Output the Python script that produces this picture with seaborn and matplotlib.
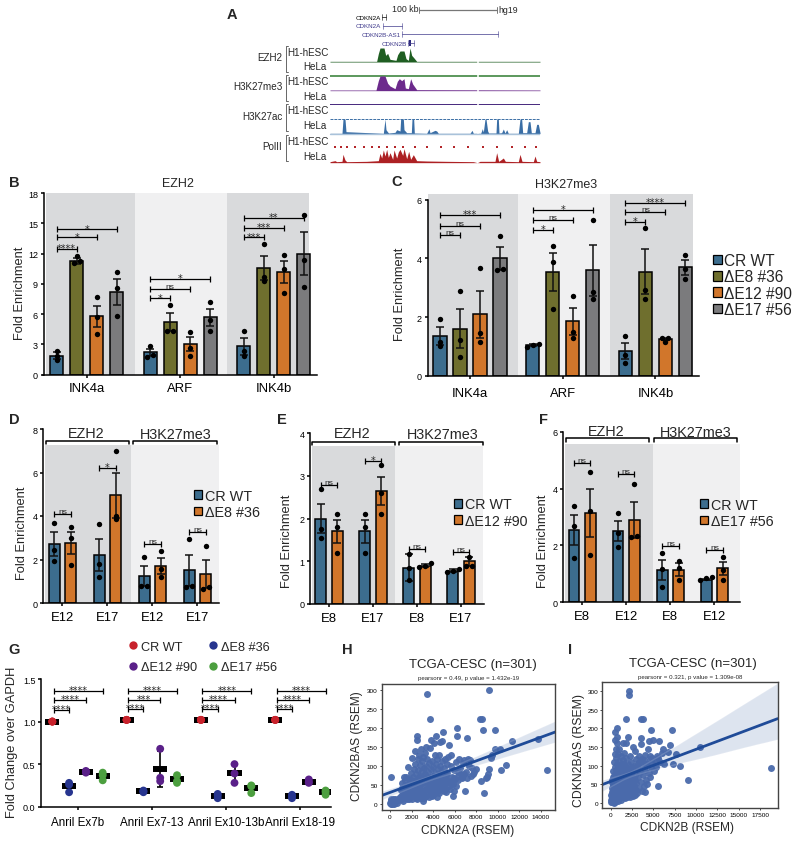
import numpy as np
import pandas as pd
import seaborn as sns
import matplotlib.pyplot as plt
import matplotlib.transforms as mtransforms
from matplotlib.patches import Patch
from matplotlib.lines import Line2D

W, H = 800, 845

GROUPS_BC = ['INK4a', 'ARF', 'INK4b']
CONDS = ['CR WT', 'ΔE8 #36', 'ΔE12 #90', 'ΔE17 #56']
BLUE, OLIVE, ORANGE, GRAY = '#3c6d8e', '#6f6f2e', '#d1762b', '#7b7b7d'
BAND_DARK, BAND_LIGHT = '#d9dadc', '#f0f0f1'

# panel B, rows are genes, columns are conditions
b_means = [[1.9, 11.3, 5.8, 8.2], [2.2, 5.2, 3.0, 5.7], [2.8, 10.6, 10.2, 12.0]]
b_sems = [[0.3, 0.3, 1.05, 1.3], [0.35, 0.9, 0.7, 0.85], [0.8, 1.2, 1.1, 2.1]]
b_dots = [
    [[1.5, 1.9, 2.3], [11.1, 11.3, 11.8], [4.0, 5.7, 7.7], [5.8, 8.6, 10.2]],
    [[1.8, 2.0, 2.8], [4.3, 4.3, 6.9], [1.9, 2.6, 4.2], [4.3, 5.4, 7.2]],
    [[1.9, 2.3, 4.3], [9.3, 9.7, 12.9], [8.1, 10.5, 11.9], [8.7, 11.4, 15.8]],
]
b_brackets = [
    (0, 0, 1, 12.5, '****'), (0, 0, 2, 13.6, '*'), (0, 0, 3, 14.4, '*'),
    (1, 0, 1, 7.55, '*'), (1, 0, 2, 8.5, 'ns'), (1, 0, 3, 9.5, '*'),
    (2, 0, 1, 13.6, '***'), (2, 0, 2, 14.55, '***'), (2, 0, 3, 15.5, '**'),
]

# panel C
c_means = [[1.35, 1.6, 2.1, 4.0], [1.05, 3.55, 1.85, 3.6], [0.85, 3.55, 1.25, 3.7]]
c_sems = [[0.3, 0.67, 0.8, 0.38], [0.03, 0.65, 0.47, 0.87], [0.27, 0.77, 0.03, 0.25]]
c_dots = [
    [[1.0, 1.15, 1.92], [0.65, 1.22, 2.88], [1.15, 1.45, 3.68], [3.6, 3.65, 4.75]],
    [[0.98, 1.05, 1.08], [2.27, 3.87, 4.42], [1.3, 1.5, 2.73], [2.6, 2.87, 5.3]],
    [[0.43, 0.7, 1.35], [2.6, 2.93, 5.03], [1.15, 1.27, 1.28], [3.3, 3.65, 4.13]],
]
c_brackets = [
    (0, 0, 1, 4.8, 'ns'), (0, 0, 2, 5.1, 'ns'), (0, 0, 3, 5.48, '***'),
    (1, 0, 1, 4.98, '*'), (1, 0, 2, 5.3, 'ns'), (1, 0, 3, 5.64, '*'),
    (2, 0, 1, 5.25, '*'), (2, 0, 2, 5.58, 'ns'), (2, 0, 3, 5.9, '****'),
]

# panel D
d_ticks = ['E12', 'E17', 'E12', 'E17']
d_means = [[2.7, 2.75], [2.2, 4.95], [1.25, 1.7], [1.5, 1.35]]
d_sems = [[0.55, 0.52], [0.75, 1.05], [0.45, 0.38], [0.72, 0.65]]
d_dots = [
    [[1.95, 2.45, 3.7], [1.75, 3.0, 3.5]],
    [[1.2, 1.8, 3.65], [3.85, 4.0, 7.0]],
    [[0.8, 0.8, 2.1], [1.2, 1.55, 2.4]],
    [[0.75, 0.8, 2.95], [0.65, 0.75, 2.6]],
]
d_brackets = [(0, 0, 1, 4.1, 'ns'), (1, 0, 1, 6.22, '*'), (2, 0, 1, 2.71, 'ns'), (3, 0, 1, 3.25, 'ns')]

# panel E
e_ticks = ['E8', 'E17', 'E8', 'E17']
e_means = [[2.0, 1.7], [1.7, 2.65], [0.85, 0.9], [0.78, 1.0]]
e_sems = [[0.35, 0.27], [0.27, 0.33], [0.32, 0.03], [0.03, 0.1]]
e_dots = [
    [[1.55, 1.75, 2.68], [1.2, 1.8, 2.1]],
    [[1.2, 1.8, 2.1], [2.1, 2.6, 3.25]],
    [[0.55, 0.85, 1.17], [0.87, 0.9, 0.95]],
    [[0.76, 0.78, 0.82], [0.9, 0.9, 1.1]],
]
e_brackets = [(0, 0, 1, 2.78, 'ns'), (1, 0, 1, 3.35, '*'), (2, 0, 1, 1.29, 'ns'), (3, 0, 1, 1.21, 'ns')]

# panel F
f_ticks = ['E8', 'E12', 'E8', 'E12']
f_means = [[2.55, 3.15], [2.5, 2.9], [1.15, 1.15], [0.8, 1.2]]
f_sems = [[0.52, 0.85], [0.35, 0.63], [0.35, 0.22], [0.03, 0.23]]
f_dots = [
    [[1.55, 2.67, 3.38], [1.65, 3.2, 4.58]],
    [[1.95, 2.45, 3.15], [2.3, 2.33, 4.15]],
    [[0.55, 1.17, 1.73], [0.78, 1.2, 1.45]],
    [[0.77, 0.85, 0.9], [0.77, 1.15, 1.58]],
]
f_brackets = [(0, 0, 1, 4.89, 'ns'), (1, 0, 1, 4.51, 'ns'), (2, 0, 1, 1.99, 'ns'), (3, 0, 1, 1.84, 'ns')]

# panel G
g_groups = ['Anril Ex7b', 'Anril Ex7-13', 'Anril Ex10-13b', 'Anril Ex18-19']
g_colors = ['#c8222c', '#27358f', '#5a2089', '#4c9f3f']
g_means = [[1.0, 0.24, 0.41, 0.36], [1.02, 0.18, 0.44, 0.32], [1.02, 0.13, 0.39, 0.22], [1.02, 0.12, 0.29, 0.17]]
g_sds = [[0.01, 0.05, 0.01, 0.04], [0.01, 0.01, 0.21, 0.04], [0.01, 0.02, 0.11, 0.04], [0.01, 0.02, 0.02, 0.02]]
g_dots = [
    [[1.0, 1.0, 1.0], [0.17, 0.26, 0.28], [0.4, 0.41, 0.42], [0.31, 0.37, 0.4]],
    [[1.02, 1.02, 1.02], [0.17, 0.18, 0.19], [0.3, 0.34, 0.68], [0.28, 0.3, 0.37]],
    [[1.02, 1.02, 1.02], [0.1, 0.13, 0.15], [0.28, 0.39, 0.5], [0.16, 0.24, 0.25]],
    [[1.02, 1.02, 1.02], [0.1, 0.12, 0.14], [0.28, 0.29, 0.32], [0.14, 0.17, 0.19]],
]
g_brackets = [
    (0, 0, 1, 1.136, '****'), (0, 0, 2, 1.253, '****'), (0, 0, 3, 1.36, '****'),
    (1, 0, 1, 1.146, '****'), (1, 0, 2, 1.253, '***'), (1, 0, 3, 1.36, '****'),
    (2, 0, 1, 1.146, '****'), (2, 0, 2, 1.253, '****'), (2, 0, 3, 1.36, '****'),
    (3, 0, 1, 1.146, '****'), (3, 0, 2, 1.253, '****'), (3, 0, 3, 1.36, '****'),
]

# panels H and I, points read by eye from the dense clouds
h_points = [
    (30, 2), (60, 8), (90, 1), (120, 12), (150, 4), (190, 0), (230, 7), (270, 2), (310, 14), (350, 3), (420, 9), (500, 5),
    (130, 72), (700, 10), (850, 15), (1000, 38), (1050, 22), (1100, 55), (1150, 12), (1200, 30), (1250, 72), (1300, 45),
    (1350, 18), (1400, 62), (1450, 35), (1500, 70), (1550, 25), (1600, 13), (1650, 50), (1700, 98), (1750, 40), (1800, 65),
    (1850, 22), (1900, 82), (1950, 55), (2000, 30), (2030, 14), (2060, 120), (2100, 72), (2150, 45), (2200, 92), (2230, 60),
    (2260, 25), (2300, 140), (2350, 105), (2380, 80), (2420, 38), (2460, 12), (2500, 180), (2520, 168), (2550, 118), (2580, 65),
    (2610, 90), (2650, 48), (2680, 28), (2720, 130), (2760, 75), (2800, 102), (2830, 55), (2860, 15), (2900, 145), (2930, 88),
    (2960, 35), (3000, 112), (3030, 68), (3060, 125), (3100, 8), (3130, 95), (3170, 42), (3200, 78), (3240, 135), (3280, 58),
    (3320, 22), (3350, 150), (3380, 100), (3400, 290), (3420, 70), (3460, 118), (3500, 30), (3540, 85), (3580, 45), (3620, 108),
    (3660, 62), (3700, 225), (3720, 148), (3760, 92), (3800, 168), (3830, 38), (3870, 75), (3900, 112), (3940, 55), (3980, 25),
    (4020, 98), (4060, 160), (4100, 68), (4140, 128), (4180, 82), (4220, 42), (4260, 105), (4300, 178), (4320, 18), (4360, 60),
    (4400, 118), (4440, 92), (4480, 35), (4520, 75), (4560, 130), (4600, 50), (4640, 100), (4680, 162), (4720, 68), (4760, 85),
    (4800, 165), (4850, 112), (4900, 190), (4930, 45), (4970, 35), (5010, 95), (5060, 72), (5100, 118), (5150, 55), (5200, 32),
    (5260, 105), (5320, 82), (5380, 125), (5450, 155), (5500, 60), (5560, 40), (5620, 100), (5680, 130), (5740, 72), (5800, 20),
    (5850, 52), (5920, 90), (5980, 33), (6050, 65), (6120, 110), (6200, 200), (6210, 178), (6280, 85), (6350, 75), (6420, 118),
    (6500, 95), (6600, 80), (6700, 68), (6780, 108), (6850, 115), (6950, 33), (7050, 85), (7150, 175), (7200, 118), (7300, 100),
    (7400, 115), (7500, 75), (7600, 95), (7800, 85), (8000, 92), (8300, 225), (8450, 60), (8500, 225), (8600, 195), (8700, 28),
    (8900, 68), (9000, 72), (9100, 78), (9200, 92), (9200, 300), (9400, 122), (9500, 128), (9700, 195), (9700, 145), (10200, 145),
    (10300, 90), (10800, 103), (11300, 165), (13700, 170), (14600, 90),
    (1000, 15), (1080, 42), (1180, 8), (1280, 28), (1380, 50), (1480, 15), (1580, 38), (1680, 28), (1780, 12), (1880, 42),
    (1980, 62), (2080, 20), (2180, 35), (2280, 48), (2380, 15), (2480, 58), (2580, 30), (2680, 72), (2780, 40), (2880, 22),
    (2980, 55), (3080, 32), (3180, 15), (3280, 70), (3380, 40), (3480, 55), (3580, 18), (3680, 35), (3780, 50), (3880, 22),
    (3980, 65), (4080, 40), (4180, 28), (4280, 55), (4380, 45), (4480, 70), (4580, 30), (4680, 58), (4780, 42), (4880, 62),
    (4980, 52), (5080, 40), (5180, 75), (5280, 60), (5480, 48), (5680, 55), (5900, 68), (6100, 48), (6300, 62), (6650, 72),
    (6900, 80), (7100, 68), (7700, 78), (80, 3), (180, 6), (260, 11), (380, 1), (560, 8), (620, 3), (450, 13),
]
i_points = [
    (50, 2), (100, 6), (150, 1), (200, 10), (250, 4), (300, 14), (350, 0), (400, 8), (450, 18), (500, 3), (550, 12), (600, 6),
    (650, 22), (700, 15), (750, 9), (800, 28), (850, 18), (900, 13), (120, 40), (180, 62), (220, 28), (280, 85), (320, 48),
    (360, 110), (400, 72), (440, 35), (480, 132), (520, 95), (540, 55), (500, 190), (560, 170), (600, 145), (620, 120), (640, 78),
    (680, 42), (700, 200), (720, 178), (760, 160), (780, 105), (820, 68), (860, 130), (880, 88), (900, 52), (940, 145), (980, 112),
    (1000, 30), (1040, 75), (1080, 95), (1120, 60), (1160, 125), (1200, 40), (1240, 85), (1280, 105), (1320, 20), (1360, 70),
    (1400, 162), (1440, 115), (1480, 48), (1520, 92), (1560, 135), (1600, 30), (1640, 75), (1680, 60), (1720, 100), (1800, 225),
    (1780, 160), (1840, 120), (1880, 45), (1920, 82), (1960, 15), (2000, 178), (2020, 65), (2060, 105), (2100, 300), (2150, 290),
    (2180, 35), (2220, 90), (2260, 55), (2300, 125), (2360, 72), (2420, 110), (2480, 42), (2540, 85), (2600, 60), (2660, 150),
    (2720, 100), (2780, 30), (2840, 75), (2900, 140), (2960, 52), (3020, 118), (3080, 90), (3140, 25), (3200, 68), (3260, 108),
    (3320, 40), (3380, 125), (3440, 82), (3500, 225), (3520, 158), (3580, 55), (3600, 175), (3660, 100), (3720, 32), (3780, 225),
    (3820, 75), (3880, 115), (3940, 45), (4000, 88), (4060, 28), (4120, 62), (4200, 105), (4300, 50), (4400, 145), (4450, 80),
    (4500, 165), (4560, 118), (4640, 68), (4700, 195), (4780, 95), (4850, 120), (5000, 170), (5100, 85), (5200, 112), (5400, 125),
    (5500, 45), (5700, 165), (5800, 110), (6100, 145), (6300, 105), (6700, 137), (7000, 155), (7200, 195), (7300, 103), (7700, 130),
    (8100, 100), (9100, 60), (10500, 150), (18800, 93),
    (60, 20), (110, 14), (170, 30), (210, 5), (260, 22), (310, 35), (370, 18), (410, 44), (470, 25), (520, 8), (570, 32), (610, 50),
    (660, 12), (710, 40), (760, 25), (810, 58), (860, 35), (910, 5), (960, 45), (1010, 18), (1060, 60), (1110, 32), (1160, 8),
    (1210, 50), (1260, 25), (1310, 65), (1360, 38), (1410, 15), (1460, 55), (1510, 28), (1560, 72), (1610, 42), (1660, 12),
    (1710, 48), (1760, 30), (1810, 62), (1860, 20), (1910, 52), (1960, 38), (2010, 70), (2060, 25), (2110, 45), (2160, 62),
    (2210, 15), (2260, 35), (2310, 50), (2360, 28), (2410, 65), (2460, 20), (2510, 42), (2560, 30), (2610, 55), (2660, 18),
    (2710, 38), (2760, 48), (2810, 22), (2860, 60), (2920, 35), (130, 55), (240, 70), (330, 62), (460, 78), (580, 88), (690, 60),
    (790, 80), (870, 100), (990, 68), (1090, 82), (1190, 100), (1290, 75), (1390, 90), (1490, 78), (1590, 105), (1690, 88),
    (1790, 95), (1890, 70), (1990, 85), (2090, 78), (2190, 72), (2290, 88), (2390, 80), (2490, 95),
    (3100, 100), (3400, 110), (3700, 118), (4000, 128), (4300, 105), (4600, 125), (4900, 108), (5300, 95), (5600, 120), (6000, 135),
]

# panel A, browser tracks: position along the locus and signal height, in 1/3 px units
ezh2_x = [330, 470, 475, 480, 492, 497, 503, 510, 528, 533, 540, 552, 558, 565, 570, 575, 582, 590, 960]
ezh2_h = [2, 2, 25, 42, 42, 20, 26, 8, 5, 22, 33, 33, 10, 5, 42, 20, 12, 2, 2]
me3_x = [330, 468, 475, 480, 495, 503, 510, 525, 532, 538, 545, 552, 556, 565, 572, 578, 590, 960]
me3_h = [2, 2, 30, 44, 44, 22, 14, 6, 28, 36, 30, 36, 8, 6, 36, 20, 3, 2]
ac_x = [330, 366, 369, 375, 378, 490, 495, 498, 503, 506, 525, 530, 540, 542, 550, 552, 560, 574, 576, 581, 583, 620, 627, 630, 645, 650, 655, 750, 756, 760, 782, 787, 790, 795, 798, 803, 806, 828, 830, 835, 837, 845, 850, 855, 860, 865, 895, 900, 905, 908, 920, 925, 930, 934, 945, 950, 955, 960]
ac_h = [1, 1, 44, 44, 6, 1, 44, 12, 5, 2, 4, 12, 8, 44, 44, 12, 3, 3, 44, 44, 2, 1, 15, 3, 10, 8, 1, 1, 10, 1, 1, 15, 5, 44, 44, 8, 2, 2, 44, 44, 2, 3, 14, 2, 12, 1, 1, 44, 44, 3, 3, 36, 36, 3, 3, 28, 28, 3]
pol_x = [330, 345, 350, 366, 369, 375, 380, 440, 475, 480, 485, 490, 495, 500, 505, 510, 518, 522, 530, 535, 540, 548, 552, 560, 566, 572, 580, 590, 620, 680, 760, 772, 780, 825, 830, 836, 842, 850, 856, 895, 900, 906, 940, 945, 950, 960]
pol_h = [3, 6, 3, 4, 25, 8, 3, 4, 6, 28, 14, 38, 20, 40, 16, 30, 10, 38, 14, 32, 40, 22, 42, 12, 34, 10, 24, 6, 5, 4, 3, 0, 4, 4, 30, 4, 8, 14, 4, 3, 25, 4, 3, 20, 4, 3]
pol_h1_x = [345, 362, 382, 405, 432, 455, 478, 500, 524, 550, 585, 622, 662, 702, 744, 790, 832, 875, 915, 948]


def axes_px(left, top, right, bottom):
    return fig.add_axes([left / W, 1 - bottom / H, (right - left) / W, (bottom - top) / H])


def px_text(x, y, s, **kw):
    kw.setdefault('ha', 'center')
    kw.setdefault('va', 'center')
    return fig.text(x, y, s, transform=PX, **kw)


def draw_bracket(ax, x0, x1, y, label):
    ax.plot([x0, x1], [y, y], color='black', lw=0.9, marker='|', ms=4, mew=0.9, zorder=5, clip_on=False)
    if label == 'ns':
        ax.annotate(label, ((x0 + x1) / 2, y), xytext=(0, 0.6), textcoords='offset points',
                    ha='center', va='baseline', fontsize=6, color='#222222')
    else:
        ax.annotate(label, ((x0 + x1) / 2, y), xytext=(0, -1.6), textcoords='offset points',
                    ha='center', va='baseline', fontsize=7, family='DejaVu Sans')


def set_ylabel_px(ax, text, x, y, fontsize=9.3):
    ax.set_ylabel(text, fontsize=fontsize, va='center')
    ax.yaxis.set_label_coords(x, y, transform=PX)


def bar_panel(box, groups, ticks, conds, palette, means, sems, dots, brackets, c0, spacing, width, ymax, ymax_px,
              yticks, bands, band_top, ylabel_xy, tick_pad=3):
    left, top, right, bottom = box
    ax = axes_px(left, top, right, bottom)
    df = pd.DataFrame([(g, c, means[i][j]) for i, g in enumerate(groups) for j, c in enumerate(conds)],
                      columns=['group', 'cond', 'value'])
    px_per_unit = (bottom - ymax_px) / ymax
    for x0, x1, color in bands:
        ax.fill_between([x0, x1], 0, band_top, color=color, lw=0, zorder=0,
                        transform=mtransforms.blended_transform_factory(PX, ax.transData))
    sns.barplot(data=df, x='group', y='value', hue='cond', order=groups, hue_order=conds, palette=palette,
                width=width, gap=0.34, saturation=1, errorbar=None, edgecolor='black', linewidth=1.1, legend=False, ax=ax)
    centers = [[b.get_x() + b.get_width() / 2 for b in cont] for cont in ax.containers]
    ax.set_xlim((left - c0) / spacing, (right - c0) / spacing)
    ax.set_ylim(0, (bottom - top) / px_per_unit)
    for i in range(len(groups)):
        for j in range(len(conds)):
            x = centers[j][i]
            ax.errorbar(x, means[i][j], yerr=sems[i][j], fmt='none', ecolor='#111111', elinewidth=1.1,
                        capsize=2.8, capthick=1.1, zorder=3)
            values = sorted(dots[i][j])
            # dots that would sit on top of each other go side by side
            clusters = [[values[0]]]
            for v in values[1:]:
                if (v - clusters[-1][-1]) * px_per_unit < 3:
                    clusters[-1].append(v)
                else:
                    clusters.append([v])
            for cl in clusters:
                for k, v in enumerate(cl):
                    ax.scatter(x + (k - (len(cl) - 1) / 2) * 6 / spacing, v, s=15, color='black', lw=0, zorder=4)
    for g, a, b, y, label in brackets:
        draw_bracket(ax, centers[a][g], centers[b][g], y, label)
    ax.set_xticks(range(len(groups)))
    ax.set_xticklabels(ticks, fontsize=9.4)
    ax.set_yticks(yticks)
    ax.tick_params(axis='y', labelsize=6.5, length=2.5, width=1.1, pad=1.5)
    ax.tick_params(axis='x', length=2.5, width=1.1, pad=tick_pad)
    ax.set_xlabel('')
    set_ylabel_px(ax, 'Fold Enrichment', ylabel_xy[0], ylabel_xy[1])
    sns.despine(ax=ax)
    ax.spines['left'].set_bounds(0, ymax)
    ax.spines['left'].set_linewidth(1.1)
    ax.spines['bottom'].set_linewidth(1.1)
    return ax


def group_bracket(ax, x0, x1, y, drop, label, label_x, label_y):
    trans = mtransforms.blended_transform_factory(PX, ax.transData)
    ax.plot([x0, x0, x1, x1], [y - drop, y, y, y - drop], color='black', lw=1.1, transform=trans, clip_on=False)
    px_text(label_x, label_y, label, fontsize=10.4)


def bar_legend(x, y, conds, palette, fontsize, spacing, textpad):
    handles = [Patch(facecolor=p, edgecolor='black', linewidth=0.9) for p in palette]
    fig.legend(handles, conds, loc='center left', bbox_to_anchor=(x, y), bbox_transform=PX, frameon=False,
               fontsize=fontsize, handlelength=0.55, handleheight=0.55, handletextpad=textpad, labelspacing=spacing,
               borderpad=0, borderaxespad=0)


def reg_panel(box, points, xlim, ylim, xticks, yticks, color='#4a6aab'):
    ax = axes_px(*box)
    df = pd.DataFrame(points, columns=['x', 'y'])
    ax.set_xlim(xlim)
    ax.set_ylim(ylim)
    sns.regplot(data=df, x='x', y='y', truncate=False, seed=3, ax=ax, color=color,
                scatter_kws={'s': 25, 'alpha': 0.95, 'linewidths': 0},
                line_kws={'color': '#1f4b98', 'lw': 2.0})
    ax.set_xlim(xlim)
    ax.set_ylim(ylim)
    ax.set_xticks(xticks)
    ax.set_yticks(yticks)
    ax.tick_params(labelsize=4.6, length=1.5, width=0.5, pad=1.5)
    for s in ax.spines.values():
        s.set_linewidth(1.0)
        s.set_color('#444444')
    ax.set_xlabel('')
    ax.set_ylabel('')
    return ax


sns.set_theme(style='ticks')
plt.rcParams['font.family'] = ['Liberation Sans', 'DejaVu Sans']
plt.rcParams['axes.edgecolor'] = 'black'
plt.rcParams['xtick.color'] = 'black'
plt.rcParams['ytick.color'] = 'black'

fig = plt.figure(figsize=(W / 100, H / 100), dpi=100)
PX = mtransforms.Affine2D().scale(1 / W, -1 / H).translate(0, 1) + fig.transFigure

# panel letters
for letter, x, y in [('A', 232, 15), ('B', 14, 183), ('C', 397, 182), ('D', 14, 420), ('E', 282, 420),
                     ('F', 543, 420), ('G', 14, 650), ('H', 347, 650), ('I', 570, 650)]:
    px_text(x, y, letter, fontsize=10.5, fontweight='bold')

# panel A
ax_a = axes_px(220, 0, 540, 170)
ax_a.set_xlim(0, 960)
ax_a.set_ylim(510, 0)
ax_a.axis('off')
ax_a.fill_between(ezh2_x, 189, 189 - np.array(ezh2_h), color='#1f5e22', lw=0)
ax_a.fill_between([330, 960], 228, 234, color='#5f9a60', lw=0)
ax_a.fill_between(me3_x, 275, 275 - np.array(me3_h), color='#6c2a8c', lw=0)
ax_a.fill_between([330, 960], 314, 319, color='#4b2d80', lw=0)
ax_a.plot([330, 960], [360, 360], color='#3a6ea5', lw=0.7, ls=(0, (3, 1)))
ax_a.fill_between(ac_x, 404, 404 - np.array(ac_h), color='#3a6ea5', lw=0)
ax_a.plot([330, 960], [405, 405], color='#a9c2da', lw=1)
ax_a.scatter(pol_h1_x, [445] * len(pol_h1_x), s=1.2, color='#b3262a', marker='s', lw=0)
ax_a.fill_between(pol_x, 491, 491 - np.array(pol_h), color='#ad2124', lw=0)
ax_a.fill_between([770, 778], 180, 405, color='white', lw=0, alpha=0.8)
for label, y in [('EZH2', 175), ('H3K27me3', 262), ('H3K27ac', 352), ('PolII', 442)]:
    ax_a.text(187, y, label, ha='right', va='center', fontsize=7.1)
for y0, y1 in [(160, 202), (246, 290), (334, 378), (425, 470)]:
    ax_a.text(325, y0, 'H1-hESC', ha='right', va='center', fontsize=7.1)
    ax_a.text(321, y1, 'HeLa', ha='right', va='center', fontsize=7.1)
for y0, y1 in [(140, 218), (228, 305), (316, 395), (407, 486)]:
    ax_a.plot([205, 197, 197, 205], [y0, y0, y1, y1], color='#666666', lw=0.7)
ax_a.text(556, 30, '100 kb', ha='center', va='center', fontsize=6.3)
ax_a.text(864, 31, 'hg19', ha='center', va='center', fontsize=6.3)
ax_a.plot([597, 830], [33, 33], color='#777777', lw=0.9)
ax_a.plot([597, 597], [24, 42], color='#777777', lw=0.7)
ax_a.plot([830, 830], [24, 42], color='#777777', lw=0.7)
for label, x, y, col, x0, x1 in [('CDKN2A', 482, 55, 'black', 485, 499), ('CDKN2A', 484, 80, '#3f3a8c', 490, 545),
                                 ('CDKN2B-AS1', 541, 106, '#3f3a8c', 545, 835), ('CDKN2B', 561, 133, '#3f3a8c', 565, 582)]:
    ax_a.text(x, y, label, ha='right', va='center', fontsize=4.5, color=col)
    ax_a.plot([x0, x1], [y, y], color=col, lw=0.5)
    ax_a.plot([x0, x0], [y - 9, y + 9], color=col, lw=0.4)
    ax_a.plot([x1, x1], [y - 9, y + 9], color=col, lw=0.4)
ax_a.fill_between([566, 573], 124, 142, color='#2d2a7c', lw=0)

# panel B
ax_b = bar_panel((43.5, 190, 317, 375.7), GROUPS_BC, GROUPS_BC, CONDS, [BLUE, OLIVE, ORANGE, GRAY], b_means, b_sems,
                 b_dots, b_brackets, 86.7, 93.5, 0.856, 18, 194, [0, 3, 6, 9, 12, 15, 18],
                 [(46, 135, BAND_DARK), (135, 227, BAND_LIGHT), (227, 309, BAND_DARK)], 18, (20, 293))
px_text(178, 184, 'EZH2', fontsize=9)

# panel C
ax_c = bar_panel((427.5, 190, 699, 376.7), GROUPS_BC, GROUPS_BC, CONDS, [BLUE, OLIVE, ORANGE, GRAY], c_means, c_sems,
                 c_dots, c_brackets, 470, 92.7, 0.863, 6, 200.7, [0, 2, 4, 6],
                 [(427.5, 518, BAND_DARK), (518, 610, BAND_LIGHT), (610, 693, BAND_DARK)], 6.2, (400, 294.5), tick_pad=5.5)
px_text(566, 185, 'H3K27me3', fontsize=9)
bar_legend(713, 286, CONDS, [BLUE, OLIVE, ORANGE, GRAY], 11.2, 0.08, 0.18)

# panel D
ax_d = bar_panel((43.3, 428, 219, 604), ['a', 'b', 'c', 'd'], d_ticks, ['CR WT', 'ΔE8 #36'], [BLUE, ORANGE], d_means, d_sems,
                 d_dots, d_brackets, 62.35, 45, 0.74, 8, 430, [0, 2, 4, 6, 8],
                 [(45, 131, BAND_DARK), (131, 219.3, BAND_LIGHT)], 7.26, (21.7, 533))
group_bracket(ax_d, 45.7, 129.3, 7.46, 0.17, 'EZH2', 86, 434)
group_bracket(ax_d, 133, 216.7, 7.46, 0.17, 'H3K27me3', 176, 435)
bar_legend(194, 505, ['CR WT', 'ΔE8 #36'], [BLUE, ORANGE], 10.4, 0.16, 0.2)

# panel E
ax_e = bar_panel((310, 432, 483.5, 605), ['a', 'b', 'c', 'd'], e_ticks, ['CR WT', 'ΔE12 #90'], [BLUE, ORANGE], e_means, e_sems,
                 e_dots, e_brackets, 329, 44, 0.75, 4, 434, [0, 1, 2, 3, 4],
                 [(311.7, 395.3, BAND_DARK), (395.3, 483.3, BAND_LIGHT)], 3.7, (286.7, 541))
group_bracket(ax_e, 311.7, 395, 3.8, 0.08, 'EZH2', 352, 434)
group_bracket(ax_e, 399, 482.7, 3.8, 0.08, 'H3K27me3', 443, 435)
bar_legend(454, 513.5, ['CR WT', 'ΔE12 #90'], [BLUE, ORANGE], 10.3, 0.16, 0.2)

# panel F
ax_f = bar_panel((563.3, 430, 740, 603.3), ['a', 'b', 'c', 'd'], f_ticks, ['CR WT', 'ΔE17 #56'], [BLUE, ORANGE], f_means, f_sems,
                 f_dots, f_brackets, 582.15, 44.1, 0.74, 6, 432.7, [0, 2, 4, 6],
                 [(565, 652.7, BAND_DARK), (652.7, 740, BAND_LIGHT)], 5.57, (542.7, 541))
group_bracket(ax_f, 565.7, 649.3, 5.77, 0.12, 'EZH2', 606, 432)
group_bracket(ax_f, 653.7, 737.3, 5.77, 0.12, 'H3K27me3', 696, 433)
bar_legend(700, 514, ['CR WT', 'ΔE17 #56'], [BLUE, ORANGE], 10.3, 0.16, 0.2)

# panel G
g_left, g_top, g_right, g_bottom = 41, 678, 331, 807.7
ax_g = axes_px(g_left, g_top, g_right, g_bottom)
g_offset = 16.8 / 74.3
g_rows = []
for i, group in enumerate(g_dots):
    for j, values in enumerate(group):
        for v in values:
            g_rows.append((i + (j - 1.5) * g_offset, v, CONDS[j]))
g_df = pd.DataFrame(g_rows, columns=['x', 'y', 'cond'])
for i in range(4):
    for j in range(4):
        gx = i + (j - 1.5) * g_offset
        ax_g.errorbar(gx, g_means[i][j], yerr=g_sds[i][j], fmt='none', ecolor='black', elinewidth=1.2,
                      capsize=2.2, capthick=1.2, zorder=2)
        ax_g.hlines(g_means[i][j], gx - 0.095, gx + 0.095, color='black', lw=4.3, zorder=2)
sns.scatterplot(data=g_df, x='x', y='y', hue='cond', hue_order=CONDS, palette=g_colors, s=32, linewidth=0,
                legend=False, zorder=3, ax=ax_g)
for g, a, b, y, label in g_brackets:
    draw_bracket(ax_g, g + (a - 1.5) * g_offset + 0.02, g + (b - 1.5) * g_offset, y, label)
ax_g.set_xlim((g_left - 77.5) / 74.3, (g_right - 77.5) / 74.3)
ax_g.set_ylim(0, (g_bottom - g_top) / ((g_bottom - 680) / 1.5))
ax_g.set_xticks(range(4))
ax_g.set_xticklabels(g_groups, fontsize=8.4)
ax_g.set_yticks([0, 0.5, 1.0, 1.5])
ax_g.set_yticklabels(['0.0', '0.5', '1.0', '1.5'])
ax_g.tick_params(axis='y', labelsize=6.5, length=2.5, width=1.1, pad=1.5)
ax_g.tick_params(axis='x', length=2.5, width=1.1, pad=4)
ax_g.set_xlabel('')
set_ylabel_px(ax_g, 'Fold Change over GAPDH', 12, 742)
sns.despine(ax=ax_g)
ax_g.spines['left'].set_bounds(0, 1.5)
ax_g.spines['left'].set_linewidth(1.1)
ax_g.spines['bottom'].set_linewidth(1.1)
g_handles = [Line2D([], [], ls='', marker='o', ms=6, mfc=g_colors[k], mec='none') for k in [0, 2, 1, 3]]
fig.legend(g_handles, [CONDS[k] for k in [0, 2, 1, 3]], ncols=2, loc='center left', bbox_to_anchor=(128, 658), bbox_transform=PX,
           frameon=False, fontsize=9.2, handlelength=0.8, handletextpad=0.25, columnspacing=0.8, labelspacing=0.7,
           borderpad=0, borderaxespad=0)

# panel H
ax_h = reg_panel((381.7, 685, 555.3, 811), h_points, (-773, 15332), (-15.8, 316),
                 range(0, 14001, 2000), range(0, 301, 50))
px_text(472.7, 665, 'TCGA-CESC (n=301)', fontsize=9.5)
px_text(469, 678.7, 'pearsonr = 0.49, p value = 1.432e-19', fontsize=4.4)
px_text(468, 831, 'CDKN2A (RSEM)', fontsize=8.6)
px_text(356.7, 746, 'CDKN2BAS (RSEM)', fontsize=8.6, rotation=90)

# panel I
ax_i = reg_panel((602.3, 683.3, 777.7, 809.3), i_points, (-977, 19570), (-15, 324),
                 range(0, 17501, 2500), range(0, 301, 50))
px_text(693, 664, 'TCGA-CESC (n=301)', fontsize=9.5)
px_text(690, 677.5, 'pearsonr = 0.321, p value = 1.309e-08', fontsize=4.4)
px_text(687, 828, 'CDKN2B (RSEM)', fontsize=8.6)
px_text(579, 751, 'CDKN2BAS (RSEM)', fontsize=8.8, rotation=90)

fig.savefig('out.png', dpi=100)
plt.close(fig)
